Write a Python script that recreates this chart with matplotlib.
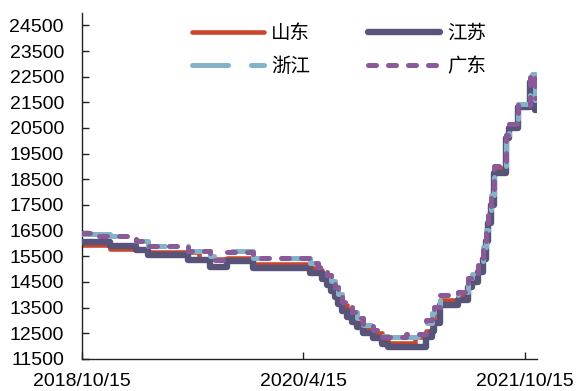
import pandas as pd
import matplotlib
matplotlib.use('Agg')
import matplotlib.pyplot as plt

plt.rcParams['font.family'] = ['Liberation Sans', 'Noto Sans CJK SC', 'DejaVu Sans']

# Price change dates (quotes held until the next change)
dates = [
    '2018-10-15', '2018-11-05', '2018-12-24', '2019-02-25', '2019-03-28',
    '2019-07-05', '2019-08-01', '2019-08-28', '2019-10-09', '2019-12-13',
    '2020-05-02', '2020-05-20', '2020-06-01', '2020-06-12', '2020-06-22',
    '2020-07-01', '2020-07-10', '2020-07-20', '2020-07-31', '2020-08-12',
    '2020-08-25', '2020-09-10', '2020-10-05', '2020-10-25', '2020-11-10',
    '2020-12-25', '2021-01-15', '2021-02-11', '2021-02-26', '2021-03-05',
    '2021-03-18', '2021-04-14', '2021-05-01', '2021-05-26', '2021-06-07',
    '2021-06-20', '2021-07-02', '2021-07-10', '2021-07-15', '2021-07-22',
    '2021-07-30', '2021-08-28', '2021-09-05', '2021-09-28', '2021-10-27',
    '2021-11-08', '2021-11-12',
]

shandong = [
    15950, 15950, 15800, 15800, 15660, 15660, 15400, 15400, 15450, 15190,
    15030, 14950, 14800, 14600, 14400, 14150, 13900, 13600, 13400, 13200,
    12950, 12700, 12500, 12250, 12120, 12120, 12340, 12600, 12900, 13300,
    13800, 13800, 14000, 14500, 14700, 15100, 15700, 16400, 17000, 17800,
    18960, 20220, 20670, 21450, 22420, 21600, 21600,
]
jiangsu = [
    16050, 16050, 15910, 15750, 15560, 15360, 15360, 15100, 15300, 15030,
    14830, 14830, 14600, 14400, 14150, 13900, 13650, 13350, 13150, 12950,
    12750, 12500, 12300, 12100, 11980, 11980, 11980, 12370, 12600, 12900,
    13600, 13600, 13800, 14300, 14500, 14900, 15400, 16100, 16800, 17500,
    18740, 20100, 20500, 21300, 22300, 21200, 21200,
]
zhejiang = [
    16380, 16380, 16280, 16100, 15900, 15700, 15690, 15500, 15690, 15430,
    15240, 15100, 14950, 14770, 14550, 14320, 14050, 13730, 13550, 13340,
    13100, 12820, 12630, 12400, 12340, 12340, 12340, 12900, 13300, 13540,
    13800, 14000, 14120, 14640, 14800, 15160, 15860, 16530, 17200, 17880,
    19000, 20220, 20670, 21450, 22620, 21600, 21600,
]
guangdong = [
    16400, 16280, 16280, 16100, 15900, 15700, 15690, 15360, 15660, 15450,
    15240, 15100, 14950, 14770, 14550, 14320, 14050, 13730, 13550, 13340,
    13100, 12820, 12630, 12340, 12340, 12470, 12470, 13000, 13300, 13540,
    14000, 14000, 14120, 14640, 14800, 15160, 15860, 16530, 17200, 17880,
    19000, 20220, 20670, 21390, 22620, 21650, 21650,
]

x_tick_dates = ['2018-10-15', '2020-04-15', '2021-10-15']
x_tick_labels = ['2018/10/15', '2020/4/15', '2021/10/15']
y_ticks = list(range(11500, 25000, 1000))

x = pd.to_datetime(dates)

fig = plt.figure(figsize=(5.77, 3.91), dpi=100)
ax = fig.add_axes([0.142, 0.082, 0.789, 0.886])

l_sd, = ax.plot(x, shandong, drawstyle='steps-post', color='#C9472B', lw=3.3,
                solid_capstyle='round', label='山东', zorder=2)
l_js, = ax.plot(x, jiangsu, drawstyle='steps-post', color='#585378', lw=4.6,
                solid_capstyle='round', label='江苏', zorder=3)
l_zj, = ax.plot(x, zhejiang, drawstyle='steps-post', color='#84B3C8', lw=3.6,
                linestyle=(0, (7.2, 4.6)), dash_capstyle='round', label='浙江', zorder=4)
l_gd, = ax.plot(x, guangdong, drawstyle='steps-post', color='#8A5A98', lw=3.6,
                linestyle=(0, (1.6, 2.4)), dash_capstyle='round', label='广东', zorder=5)

ax.set_xlim(pd.Timestamp('2018-10-15'), pd.Timestamp('2021-11-14'))
ax.set_ylim(11500, 25000)
ax.set_yticks(y_ticks)
ax.set_xticks(pd.to_datetime(x_tick_dates))
ax.set_xticklabels(x_tick_labels)

for side in ('top', 'right'):
    ax.spines[side].set_visible(False)
for side in ('left', 'bottom'):
    ax.spines[side].set_linewidth(1.0)
    ax.spines[side].set_color('#222222')

ax.tick_params(axis='both', direction='in', length=5, width=1.0,
               labelsize=14, colors='#222222', labelcolor='black')
ax.tick_params(axis='y', pad=13)
ax.tick_params(axis='x', pad=10)

# two columns, filled row by row
handles = [l_sd, l_zj, l_js, l_gd]
fig.legend(handles, [h.get_label() for h in handles],
           loc='upper left', bbox_to_anchor=(0.333, 0.935), ncol=2,
           frameon=False, fontsize=14, handlelength=3.7, handletextpad=0.36,
           columnspacing=3.0, labelspacing=0.75, borderpad=0, borderaxespad=0)

fig.savefig('out.png', dpi=100)
